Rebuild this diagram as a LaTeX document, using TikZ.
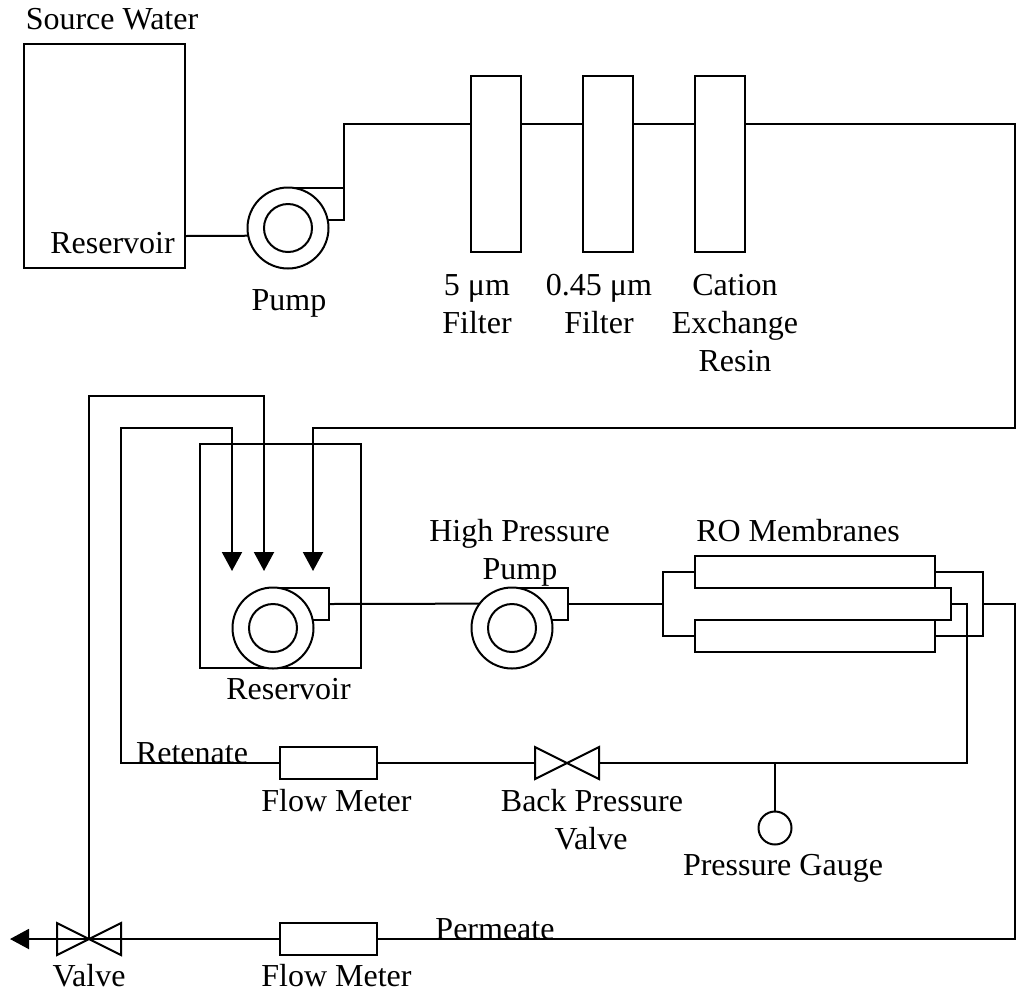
\documentclass[tikz,border=0pt]{standalone}
\usepackage{fontspec}
\setmainfont{Liberation Serif}
\usetikzlibrary{arrows.meta}
\tikzset{
  every node/.style={inner sep=0pt,outer sep=0pt},
  box/.style={draw,rectangle,line width=2pt,fill=white},
  rescase/.style={draw,rectangle,line width=2pt},
  wheel/.style={draw,circle,line width=2pt,minimum size=81pt,fill=white},
  hub/.style={draw,circle,line width=2pt,minimum size=48pt},
  gaugeface/.style={draw,circle,line width=2pt,minimum size=33pt},
  pipe/.style={line width=2pt,line cap=butt,line join=miter},
  flowpipe/.style={pipe,-{Triangle[length=19pt,width=20pt]}},
  lab/.style={font=\fontsize{32}{38}\selectfont,anchor=base,align=center},
}
\newcommand{\volute}[3]{% x y of wheel centre, name
  \coordinate (#3tl) at (#1-8,#2-40);
  \coordinate (#3tr) at (#1+56,#2-40);
  \coordinate (#3out) at (#1+56,#2-24);
  \coordinate (#3br) at (#1+56,#2-8);
  \coordinate (#3bl) at (#1+40,#2-8);
  \draw[pipe] (#3tl) -- (#3tr) -- (#3br) -- (#3bl);
  \node[wheel] (#3w) at (#1,#2) {};
  \node[hub] (#3h) at (#1,#2) {};
}
\newcommand{\bowvalve}[3]{%
  \coordinate (#3c) at (#1,#2);
  \coordinate (#3a) at (#1-32,#2-16);
  \coordinate (#3b) at (#1-32,#2+16);
  \coordinate (#3d) at (#1+32,#2-16);
  \coordinate (#3e) at (#1+32,#2+16);
  \coordinate (#3l) at (#1-32,#2);
  \coordinate (#3r) at (#1+32,#2);
  \draw[pipe] (#3a) -- (#3b) -- (#3d) -- (#3e) -- cycle;
}
\begin{document}
\begin{tikzpicture}[x=1pt,y=-1pt]
\useasboundingbox (0,0) rectangle (1017,997);
% containers
\node[rescase,minimum width=161pt,minimum height=224pt] (src) at (104.5,156) {};
\node[rescase,minimum width=161pt,minimum height=224pt] (tank) at (280.5,556) {};
% pipe elbows
\coordinate (p1a) at (344,124);
\coordinate (e1) at (1015,124);
\coordinate (e2) at (1015,428);
\coordinate (e3) at (313,428);
\coordinate (tip3) at (313,571);
\coordinate (ret1) at (121,428);
\coordinate (ret2) at (232,428);
\coordinate (ret3) at (121,763);
\coordinate (tip1) at (232,571);
\coordinate (perm1) at (89,396);
\coordinate (perm2) at (264,396);
\coordinate (tip2) at (264,571);
\coordinate (endtip) at (10,939);
% pumps
\volute{288}{228}{pa}
\volute{273}{628}{pb}
\volute{512}{628}{pc}
% filters
\node[box,minimum width=50pt,minimum height=176pt] (f1) at (496,164) {};
\node[box,minimum width=50pt,minimum height=176pt] (f2) at (608,164) {};
\node[box,minimum width=50pt,minimum height=176pt] (f3) at (720,164) {};
% membranes
\node[box,minimum width=240pt,minimum height=32pt] (m1) at (815,572) {};
\node[box,minimum width=240pt,minimum height=32pt] (m2) at (815,636) {};
\coordinate (brL) at (663,604);
\coordinate (brLt) at (663,572);
\coordinate (brLb) at (663,636);
\coordinate (m1i) at (935,588);
\coordinate (m2i) at (935,620);
\coordinate (brM) at (951,604);
\coordinate (brMt) at (951,588);
\coordinate (brMb) at (951,620);
\coordinate (brO) at (983,604);
\coordinate (brOt) at (983,572);
\coordinate (brOb) at (983,636);
\coordinate (retc) at (967,604);
\coordinate (retd) at (967,763);
\coordinate (perma) at (1015,604);
\coordinate (permb) at (1015,939);
% meters, valves, gauge
\node[box,minimum width=97pt,minimum height=32pt] (fm1) at (328.5,763) {};
\node[box,minimum width=97pt,minimum height=32pt] (fm2) at (328.5,939) {};
\bowvalve{567}{763}{bpv}
\bowvalve{89}{939}{v}
\node[gaugeface] (g) at (775,828) {};
\coordinate (gt) at (775,763);
% connectors
\draw[pipe] (src.east |- 0,236) -- (paw.191.4);
\draw[pipe] (patr) -- (p1a) -- (f1.west |- p1a);
\draw[pipe] (f1.east |- p1a) -- (f2.west |- p1a);
\draw[pipe] (f2.east |- p1a) -- (f3.west |- p1a);
\draw[flowpipe] (f3.east |- p1a) -- (e1) -- (e2) -- (e3) -- (tip3);
\draw[flowpipe] (fm1.west) -- (ret3) -- (ret1) -- (ret2) -- (tip1);
\draw[flowpipe] (vc) -- (perm1) -- (perm2) -- (tip2);
\draw[pipe] (pbout) -- (pcw.143.65);
\draw[pipe] (pcout) -- (brL);
\draw[pipe] (m1.west) -- (brLt) -- (brLb) -- (m2.west);
\draw[pipe] (m1.east) -- (brOt) -- (brOb) -- (m2.east);
\draw[pipe] (m1i) -- (brMt) -- (brMb) -- (m2i);
\draw[pipe] (brM) -- (retc) -- (retd) -- (bpvr);
\draw[pipe] (bpvl) -- (fm1.east);
\draw[pipe] (gt) -- (g.north);
\draw[pipe] (brO) -- (perma) -- (permb) -- (fm2.east);
\draw[flowpipe] (fm2.west) -- (endtip);
% labels
\node[lab] (t1) at (112,29) {Source Water};
\node[lab] (t2) at (112.5,253) {Reservoir};
\node[lab] (t3) at (289,310) {Pump};
\node[lab] (t4) at (477,295) {5 μm};
\node[lab] (t5) at (477,333) {Filter};
\node[lab] (t6) at (599,295) {0.45 μm};
\node[lab] (t7) at (599,333) {Filter};
\node[lab] (t8) at (735,295) {Cation};
\node[lab] (t9) at (735,333) {Exchange};
\node[lab] (t10) at (735,371) {Resin};
\node[lab] (t11) at (519.5,541) {High Pressure};
\node[lab] (t12) at (520,579) {Pump};
\node[lab] (t13) at (798,541) {RO Membranes};
\node[lab] (t14) at (288.5,699) {Reservoir};
\node[lab] (t15) at (192,763) {Retenate};
\node[lab] (t16) at (336.5,811) {Flow Meter};
\node[lab] (t17) at (592,811) {Back Pressure};
\node[lab] (t18) at (591,849) {Valve};
\node[lab] (t19) at (783,875) {Pressure Gauge};
\node[lab] (t20) at (495,939) {Permeate};
\node[lab] (t21) at (89,986) {Valve};
\node[lab] (t22) at (336.5,986) {Flow Meter};
\end{tikzpicture}
\end{document}
